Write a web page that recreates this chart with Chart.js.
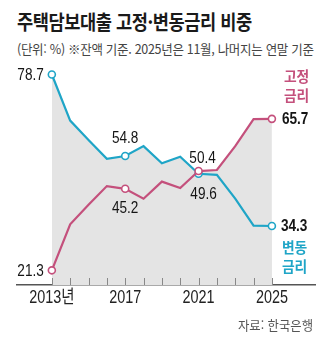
<!DOCTYPE html>
<html lang="ko">
<head>
  <meta charset="UTF-8" />
  <meta name="viewport" content="width=device-width, initial-scale=1.0" />
  <title>주택담보대출 고정·변동금리 비중</title>
  <script src="https://cdn.jsdelivr.net/npm/chart.js"></script>
  <style>
    html, body { margin: 0; padding: 0; background: #fff; }
    body { width: 330px; height: 342px; position: relative; overflow: hidden; font-family: "Noto Sans CJK KR", sans-serif; }
    #chart { position: absolute; left: 0; top: 0; }
    .txt { position: absolute; white-space: nowrap; transform-origin: left top; }
    .title { left: 17px; top: 7px; font-size: 20px; font-weight: 700; color: #1a1a1a; transform: scaleX(0.88); letter-spacing: -0.5px; }
    .sub { left: 17px; top: 39px; font-size: 13px; color: #444; transform: scaleX(0.96); letter-spacing: -0.3px; }
    .src { right: 17px; top: 315px; font-size: 13px; color: #555; transform-origin: right top; transform: scaleX(0.95); }
  </style>
</head>
<body>
  <div class="txt title">주택담보대출 고정·변동금리 비중</div>
  <div class="txt sub">(단위: %) ※잔액 기준. 2025년은 11월, 나머지는 연말 기준</div>
  <canvas id="chart" width="330" height="342"></canvas>
  <div class="txt src">자료: 한국은행</div>

  <script>
    // data
    const years = [2013, 2014, 2015, 2016, 2017, 2018, 2019, 2020, 2021, 2022, 2023, 2024, 2025];
    const fixedRate = [21.3, 34.8, 40.5, 46.0, 45.2, 42.3, 47.3, 45.4, 50.4, 50.7, 57.7, 65.6, 65.7];
    const variableRate = [78.7, 65.2, 59.5, 54.0, 54.8, 57.7, 52.7, 54.6, 49.6, 49.3, 42.3, 34.4, 34.3];
    const markedYears = [2013, 2017, 2021, 2025];
    const tickYears = [2013, 2017, 2021, 2025];

    const PINK = "#c4507c";
    const BLUE = "#1fa5c7";
    const GRAY_FILL = "#e4e4e4";
    const NUM_FONT = '"Liberation Sans", "Noto Sans CJK KR", sans-serif';
    const NARROW = 0.8;

    // where each value label sits relative to its point
    const fixedLabels = {
      2013: { dx: -8, dy: 1, align: "right" },
      2017: { dx: 0, dy: 20, align: "center" },
      2021: { dx: 4, dy: -13, align: "center" },
      2025: { dx: 10, dy: 0, align: "left", bold: true }
    };
    const variableLabels = {
      2013: { dx: -8, dy: 1, align: "right" },
      2017: { dx: 0, dy: -18, align: "center" },
      2021: { dx: 5, dy: 21, align: "center" },
      2025: { dx: 9, dy: 0, align: "left", bold: true }
    };

    const toPoints = (vals) => years.map((yr, i) => ({ x: yr, y: vals[i] }));
    const markRadius = (ctx) => markedYears.includes(years[ctx.dataIndex]) ? 3.5 : 0;

    // condensed text: squeeze horizontally like the newspaper font
    function narrowText(ctx, text, x, y, align, font, sx, color) {
      ctx.save();
      ctx.font = font;
      ctx.fillStyle = color;
      ctx.textBaseline = "middle";
      ctx.textAlign = "left";
      const w = ctx.measureText(text).width * sx;
      const left = align === "right" ? x - w : align === "center" ? x - w / 2 : x;
      ctx.translate(left, y);
      ctx.scale(sx, 1);
      ctx.fillText(text, 0, 0);
      ctx.restore();
    }

    const valueLabels = {
      id: "valueLabels",
      afterDatasetsDraw(chart) {
        const { ctx } = chart;
        chart.data.datasets.forEach((ds, di) => {
          const meta = chart.getDatasetMeta(di);
          Object.keys(ds.valueLabels).forEach(yr => {
            const i = years.indexOf(Number(yr));
            const spot = ds.valueLabels[yr];
            const pt = meta.data[i];
            const font = (spot.bold ? "bold " : "") + "17px " + NUM_FONT;
            narrowText(ctx, ds.data[i].y.toFixed(1), pt.x + spot.dx, pt.y + spot.dy, spot.align, font, NARROW, "#151515");
          });
          // series name beside the last point
          const last = meta.data[meta.data.length - 1];
          ds.nameLines.forEach((line, k) => {
            narrowText(ctx, line, last.x + ds.nameDx, last.y + ds.nameDy + k * 19, "left",
              'bold 15px "Noto Sans CJK KR", sans-serif', 0.92, ds.borderColor);
          });
        });
      }
    };

    const yearTicks = {
      id: "yearTicks",
      afterDatasetsDraw(chart) {
        const { ctx, chartArea, scales } = chart;
        ctx.save();
        ctx.strokeStyle = "#888";
        ctx.lineWidth = 1;
        years.forEach(yr => {
          const x = Math.round(scales.x.getPixelForValue(yr)) + 0.5;
          ctx.beginPath();
          ctx.moveTo(x, chartArea.bottom);
          ctx.lineTo(x, chartArea.bottom - 7);
          ctx.stroke();
        });
        ctx.restore();
        tickYears.forEach(yr => {
          const label = yr === years[0] ? yr + "년" : String(yr);
          narrowText(ctx, label, scales.x.getPixelForValue(yr), chartArea.bottom + 13.5, "center",
            "18px " + NUM_FONT, NARROW, "#222");
        });
      }
    };

    new Chart(document.getElementById("chart").getContext("2d"), {
      type: "line",
      data: {
        datasets: [
          {
            label: "고정금리",
            data: toPoints(fixedRate),
            borderColor: PINK,
            backgroundColor: GRAY_FILL,
            borderWidth: 2.2,
            fill: "start",
            tension: 0,
            pointRadius: markRadius,
            pointBackgroundColor: "#fff",
            pointBorderColor: PINK,
            pointBorderWidth: 1.6,
            valueLabels: fixedLabels,
            nameLines: ["고정", "금리"],
            nameDx: 12,
            nameDy: -43
          },
          {
            label: "변동금리",
            data: toPoints(variableRate),
            borderColor: BLUE,
            backgroundColor: GRAY_FILL,
            borderWidth: 2.2,
            fill: "start",
            tension: 0,
            pointRadius: markRadius,
            pointBackgroundColor: "#fff",
            pointBorderColor: BLUE,
            pointBorderWidth: 1.6,
            valueLabels: variableLabels,
            nameLines: ["변동", "금리"],
            nameDx: 10,
            nameDy: 21
          }
        ]
      },
      options: {
        responsive: false,
        animation: false,
        layout: { padding: { left: 17, right: 15, top: 53, bottom: 17 } },
        plugins: {
          legend: { display: false },
          tooltip: { enabled: false },
          filler: { drawTime: "beforeDatasetsDraw" }
        },
        scales: {
          x: {
            type: "linear",
            min: 2011.1,
            max: 2027.35,
            afterBuildTicks: (scale) => { scale.ticks = tickYears.map(v => ({ value: v })); },
            afterFit: (scale) => { scale.height = 40; },
            ticks: { display: false },
            grid: { drawOnChartArea: false, drawTicks: false },
            border: { display: true, color: "#555", width: 1.5 }
          },
          y: {
            display: false,
            min: 17,
            max: 85
          }
        }
      },
      plugins: [yearTicks, valueLabels]
    });
  </script>
</body>
</html>
